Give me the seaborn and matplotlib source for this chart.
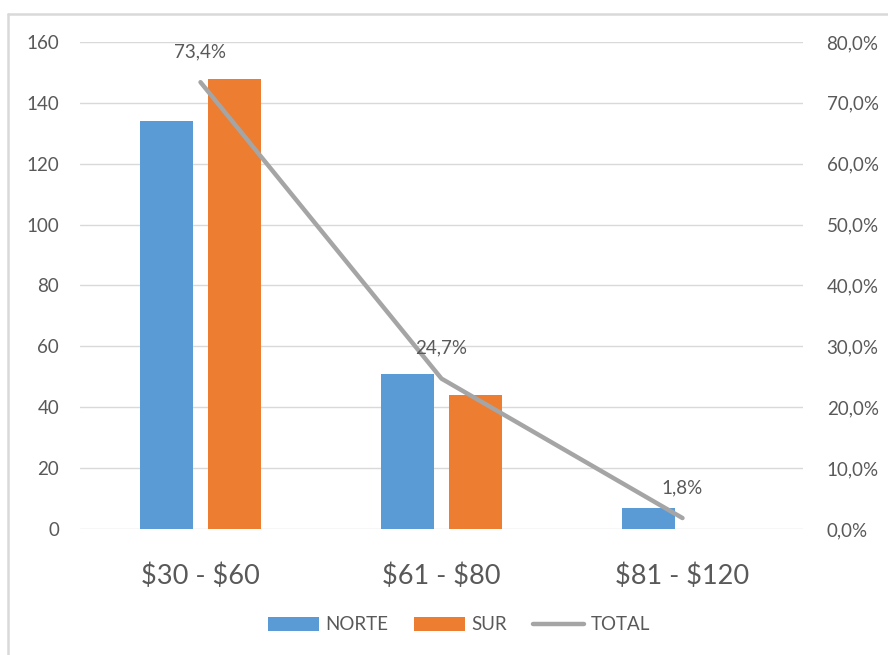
import matplotlib
matplotlib.use("Agg")
import matplotlib.pyplot as plt
from matplotlib.lines import Line2D
from matplotlib.patches import Patch
from matplotlib.ticker import FuncFormatter, MultipleLocator
import seaborn as sns
import pandas as pd

# Data
rangos = ["$30 - $60", "$61 - $80", "$81 - $120"]
norte = [134, 51, 7]
sur = [148, 44, 0]
total_pct = [73.4, 24.7, 1.8]

azul = "#5B9BD5"
naranja = "#ED7D31"
gris = "#A5A5A5"
texto = "#595959"
rejilla = "#D9D9D9"

sns.set_theme(style="white")
plt.rcParams["font.family"] = ["Lato", "DejaVu Sans"]
plt.rcParams["text.parse_math"] = False

df = pd.DataFrame({
    "rango": rangos * 2,
    "n": norte + sur,
    "zona": ["NORTE"] * 3 + ["SUR"] * 3,
})

fig = plt.figure(figsize=(8.88, 6.55), dpi=100)
ax = fig.add_axes([80 / 888, 1 - 529 / 655, 723 / 888, 487 / 655])

sns.barplot(data=df, x="rango", y="n", hue="zona", order=rangos,
            hue_order=["NORTE", "SUR"], palette=[azul, naranja],
            width=0.564, gap=0.206, saturation=1, legend=False, ax=ax,
            edgecolor="none", linewidth=0)

ax.set_xlim(-0.5, 2.5)
ax.set_ylim(0, 160)
ax.yaxis.set_major_locator(MultipleLocator(20))
ax.grid(axis="y", color=rejilla, linewidth=1)
ax.set_axisbelow(True)
for s in ax.spines.values():
    s.set_visible(False)
ax.set_xlabel("")
ax.set_ylabel("")
ax.tick_params(axis="y", length=0, pad=15, labelsize=13.5, labelcolor=texto)
ax.tick_params(axis="x", length=0, pad=25, labelsize=19.5, labelcolor=texto)

# Percent line on the secondary axis
ax2 = ax.twinx()
sns.lineplot(x=[0, 1, 2], y=total_pct, color=gris, linewidth=3.2,
             sort=False, ax=ax2, legend=False)
ax2.set_ylim(0, 80)
ax2.set_xlim(-0.5, 2.5)
ax2.yaxis.set_major_locator(MultipleLocator(10))
ax2.yaxis.set_major_formatter(FuncFormatter(lambda v, _: f"{v:.1f}%".replace(".", ",")))
ax2.tick_params(axis="y", length=0, pad=17, labelsize=13.5, labelcolor=texto)
for s in ax2.spines.values():
    s.set_visible(False)
ax2.set_ylabel("")

for i, v in enumerate(total_pct):
    ax2.annotate(f"{v:.1f}%".replace(".", ","), (i, v), xytext=(0, 22),
                 textcoords="offset points", ha="center", va="center",
                 fontsize=13.5, color=texto)

# Legend
handles = [
    Patch(facecolor=azul, edgecolor="none", label="NORTE"),
    Patch(facecolor=naranja, edgecolor="none", label="SUR"),
    Line2D([0], [0], color=gris, linewidth=3.2, label="TOTAL"),
]
leg = fig.legend(handles=handles, loc="center", bbox_to_anchor=(459 / 888, 1 - 625 / 655),
                 ncol=3, frameon=False, fontsize=13.5, handlelength=2.7,
                 handleheight=0.7, handletextpad=0.35, columnspacing=1.4)
for t in leg.get_texts():
    t.set_color(texto)

# Chart frame
fig.add_artist(Line2D([8 / 888, 8 / 888], [0, 1 - 14 / 655], color=rejilla,
                      linewidth=1.8, transform=fig.transFigure))
fig.add_artist(Line2D([8 / 888, 1], [1 - 14 / 655, 1 - 14 / 655], color=rejilla,
                      linewidth=1.8, transform=fig.transFigure))

fig.savefig("out.png", dpi=100)
